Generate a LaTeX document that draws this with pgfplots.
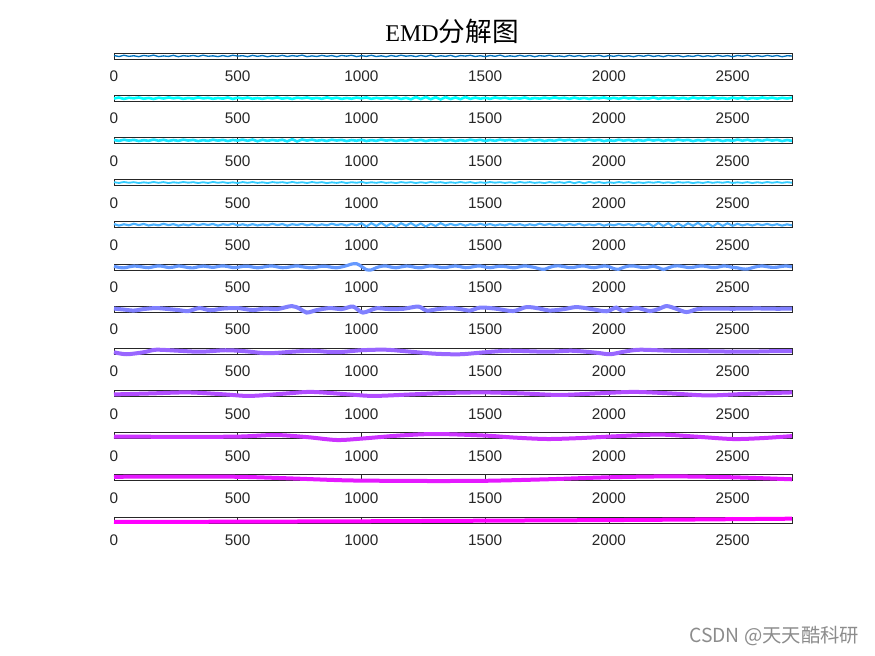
\documentclass[border=0pt]{standalone}
\usepackage{fontspec}
\setmainfont{Liberation Sans}
\newfontfamily\cjk{Noto Sans CJK SC}
\newfontfamily\serifont{Liberation Serif}
\usepackage{pgfplots}
\pgfplotsset{compat=1.18}
\definecolor{c0}{rgb}{0.0,0.447,0.741}
\definecolor{c1}{rgb}{0.0,1.0,1.0}
\definecolor{c2}{rgb}{0.1,0.9,1.0}
\definecolor{c3}{rgb}{0.2,0.8,1.0}
\definecolor{c4}{rgb}{0.3,0.7,1.0}
\definecolor{c5}{rgb}{0.4,0.6,1.0}
\definecolor{c6}{rgb}{0.5,0.5,1.0}
\definecolor{c7}{rgb}{0.6,0.4,1.0}
\definecolor{c8}{rgb}{0.7,0.3,1.0}
\definecolor{c9}{rgb}{0.8,0.2,1.0}
\definecolor{c10}{rgb}{0.9,0.1,1.0}
\definecolor{c11}{rgb}{1.0,0.0,1.0}
\pgfplotsset{emd/.style={width=508.5pt,height=4.5pt,scale only axis,
  xmin=0,xmax=2740,ymin=-3,ymax=3,ytick=\empty,
  xtick={0,500,1000,1500,2000,2500},
  tick align=inside,major tick length=2.2pt,clip=false,
  axis line style={line width=0.5pt,black!85},
  tick style={black!85,line width=0.5pt},
  xticklabel style={font=\fontsize{11.5}{12}\selectfont,text=black!85,yshift=-5.5pt},
  /pgf/number format/assume math mode=true,
  /pgf/number format/1000 sep={},
  anchor=south west},
  noisy/.style={table/row sep=\\,table/header=false,table/x expr=\coordindex*20,table/y index=0,restrict x to domain=0:2740}}
\begin{document}
\begin{tikzpicture}
\useasboundingbox (0,0) rectangle (656.25pt,492pt);
% 1
\begin{axis}[emd,at={(85.5pt,447.75pt)},ymin=-5,ymax=5]
\addplot[c0,line width=1pt,noisy] table {0.8\\ -0.9\\ 1.2\\ -0.6\\ 0.4\\ -1.1\\ 0.9\\ -0.3\\ 1.4\\ -1.0\\
0.2\\ -0.7\\ 1.1\\ -1.2\\ 0.6\\ -0.4\\ 0.9\\ -0.8\\ 1.3\\ -0.5\\
0.3\\ -1.0\\ 0.7\\ -0.9\\ 1.2\\ -0.2\\ 0.5\\ -1.1\\ 1.0\\ -0.6\\
0.8\\ -1.3\\ 0.4\\ -0.7\\ 1.1\\ -0.9\\ 0.6\\ -0.4\\ 1.4\\ -1.1\\
0.2\\ -0.8\\ 1.0\\ -0.5\\ 0.7\\ -1.2\\ 0.9\\ -0.3\\ 1.2\\ -1.0\\
0.5\\ -0.6\\ 1.1\\ -0.9\\ 0.3\\ -1.2\\ 0.8\\ -0.7\\ 1.3\\ -0.4\\
0.6\\ -1.0\\ 0.9\\ -0.8\\ 1.5\\ -1.2\\ 0.4\\ -0.6\\ 1.0\\ -1.3\\
0.7\\ -0.2\\ 1.2\\ -0.9\\ 0.5\\ -1.1\\ 0.8\\ -0.5\\ 1.4\\ -1.0\\
0.3\\ -0.8\\ 1.1\\ -0.6\\ 0.9\\ -1.2\\ 0.6\\ -0.4\\ 1.3\\ -0.9\\
0.2\\ -1.1\\ 1.0\\ -0.7\\ 0.8\\ -1.3\\ 0.5\\ -0.3\\ 1.2\\ -1.0\\
0.7\\ -0.6\\ 1.1\\ -0.9\\ 0.4\\ -1.2\\ 0.9\\ -0.5\\ 1.3\\ -0.8\\
0.6\\ -1.1\\ 1.0\\ -0.4\\ 0.8\\ -1.3\\ 0.3\\ -0.7\\ 1.2\\ -0.9\\
0.5\\ -1.0\\ 1.1\\ -0.6\\ 0.7\\ -1.2\\ 0.9\\ -0.3\\ 1.4\\ -1.1\\
0.6\\ -0.8\\ 1.0\\ -0.5\\ 0.8\\ -1.2\\ 0.4\\ 0.0\\ 0.5\\ -0.6\\};
\end{axis}
% 2
\begin{axis}[emd,at={(85.5pt,416.12pt)},ymin=-5,ymax=5]
\addplot[c1,line width=2pt,noisy] table {-0.5\\ 1.0\\ -1.2\\ 0.7\\ -0.3\\ 1.1\\ -0.9\\ 0.4\\ -1.3\\ 0.8\\
-0.6\\ 1.2\\ -0.2\\ 0.9\\ -1.1\\ 0.5\\ -0.8\\ 1.3\\ -0.4\\ 0.6\\
-1.0\\ 0.3\\ -0.7\\ 1.1\\ -1.2\\ 0.8\\ -0.5\\ 1.0\\ -0.9\\ 0.2\\
-1.1\\ 0.7\\ -0.4\\ 1.2\\ -0.8\\ 0.6\\ -1.3\\ 0.9\\ -0.3\\ 1.1\\
-0.7\\ 0.5\\ -1.0\\ 1.3\\ -0.6\\ 0.8\\ -1.2\\ 0.4\\ -0.9\\ 1.0\\
-0.3\\ 1.2\\ -1.1\\ 0.6\\ -0.8\\ 0.9\\ -0.5\\ 1.1\\ -1.3\\ 0.7\\
-1.8\\ 1.9\\ -1.5\\ 2.0\\ -1.7\\ 1.6\\ -2.0\\ 1.8\\ -1.4\\ 1.2\\
-1.6\\ 1.9\\ -1.2\\ 1.0\\ -0.9\\ 0.6\\ -1.1\\ 1.2\\ -0.4\\ 0.8\\
-1.0\\ 0.5\\ -0.7\\ 1.1\\ -1.2\\ 0.3\\ -0.8\\ 0.9\\ -0.6\\ 1.3\\
-0.4\\ 0.7\\ -1.1\\ 1.0\\ -0.9\\ 0.5\\ -1.3\\ 0.8\\ -0.2\\ 1.2\\
-0.8\\ 0.6\\ -1.0\\ 1.1\\ -0.5\\ 0.9\\ -1.2\\ 0.4\\ -0.7\\ 1.3\\
-1.1\\ 0.8\\ -0.3\\ 1.0\\ -0.9\\ 0.6\\ -1.2\\ 1.1\\ -0.5\\ 0.7\\
-0.9\\ 1.2\\ -0.6\\ 0.3\\ -1.1\\ 0.9\\ -0.7\\ 1.0\\ -1.3\\ 0.5\\
-0.8\\ 1.1\\ -0.4\\ 0.9\\ -1.0\\ 0.6\\ -0.5\\ 0.8\\ -0.2\\ 0.0\\};
\end{axis}
% 3
\begin{axis}[emd,at={(85.5pt,384.48pt)},ymin=-5,ymax=5]
\addplot[c2,line width=2pt,noisy] table {0.6\\ -0.9\\ 1.0\\ -0.4\\ 0.8\\ -1.1\\ 0.3\\ -0.7\\ 1.2\\ -0.6\\
0.9\\ -1.0\\ 0.5\\ -0.8\\ 1.1\\ -0.3\\ 0.7\\ -1.2\\ 0.4\\ -0.9\\
1.0\\ -0.5\\ 0.8\\ -1.1\\ 0.6\\ -0.4\\ 1.2\\ -0.8\\ 1.3\\ -1.4\\
0.9\\ -0.8\\ 0.7\\ -0.6\\ 1.0\\ -1.6\\ 1.8\\ -1.7\\ 1.4\\ -0.5\\
1.2\\ -0.7\\ 0.6\\ -1.0\\ 1.0\\ -0.3\\ 0.8\\ -1.2\\ 0.5\\ -0.6\\
0.9\\ -1.1\\ 0.4\\ -0.8\\ 1.2\\ -0.5\\ 0.7\\ -1.0\\ 0.3\\ -0.9\\
1.1\\ -0.6\\ 0.8\\ -1.2\\ 0.5\\ -0.4\\ 1.0\\ -0.9\\ 0.7\\ -1.1\\
0.4\\ -0.8\\ 1.2\\ -0.5\\ 0.9\\ -1.0\\ 0.6\\ -0.7\\ 1.1\\ -0.3\\
0.8\\ -1.2\\ 0.5\\ -0.9\\ 1.0\\ -0.6\\ 0.7\\ -1.1\\ 0.4\\ -0.8\\
1.2\\ -0.4\\ 0.9\\ -1.0\\ 0.6\\ -0.7\\ 1.1\\ -0.5\\ 0.8\\ -1.2\\
0.3\\ -0.9\\ 1.0\\ -0.6\\ 0.7\\ -1.1\\ 0.5\\ -0.8\\ 1.2\\ -0.4\\
0.9\\ -1.0\\ 0.6\\ -0.7\\ 1.1\\ -0.3\\ 0.8\\ -1.2\\ 0.5\\ -0.9\\
1.0\\ -0.5\\ 0.7\\ -1.1\\ 0.4\\ -0.8\\ 1.2\\ -0.6\\ 0.9\\ -1.0\\
0.6\\ -0.7\\ 1.1\\ -0.4\\ 0.8\\ -1.2\\ 0.5\\ -0.9\\ 0.3\\ 0.0\\};
\end{axis}
% 4
\begin{axis}[emd,at={(85.5pt,352.85pt)},ymin=-5,ymax=5]
\addplot[c3,line width=1.4pt,noisy] table {0.5\\ -0.7\\ 0.9\\ -0.4\\ 0.6\\ -0.8\\ 0.3\\ -0.6\\ 0.8\\ -0.5\\
0.7\\ -0.9\\ 0.4\\ -0.5\\ 0.8\\ -0.3\\ 0.6\\ -0.8\\ 0.5\\ -0.7\\
0.9\\ -0.4\\ 0.6\\ -0.7\\ 0.3\\ -0.8\\ 0.7\\ -0.5\\ 0.8\\ -0.6\\
0.4\\ -0.9\\ 0.7\\ -0.3\\ 0.6\\ -0.7\\ 0.9\\ -0.5\\ 0.5\\ -0.8\\
0.8\\ -0.4\\ 0.6\\ -0.9\\ 0.3\\ -0.6\\ 0.7\\ -0.8\\ 0.5\\ -0.4\\
0.9\\ -0.7\\ 0.4\\ -0.5\\ 0.8\\ -0.6\\ 0.3\\ -0.9\\ 0.7\\ -0.4\\
0.6\\ -0.8\\ 0.5\\ -0.7\\ 0.9\\ -0.3\\ 0.6\\ -0.8\\ 0.4\\ -0.6\\
0.8\\ -0.5\\ 0.7\\ -0.9\\ 0.4\\ -0.6\\ 0.8\\ -0.3\\ 0.6\\ -0.7\\
0.5\\ -0.8\\ 0.9\\ -0.4\\ 0.7\\ -0.6\\ 0.3\\ -0.9\\ 0.8\\ -0.5\\
0.6\\ -0.7\\ 1.2\\ -1.1\\ 0.9\\ -1.3\\ 1.0\\ -0.6\\ 0.7\\ -0.8\\
0.4\\ -0.6\\ 0.8\\ -0.5\\ 0.7\\ -0.9\\ 0.3\\ -0.7\\ 0.6\\ -0.4\\
0.9\\ -0.6\\ 0.5\\ -0.8\\ 0.7\\ -0.3\\ 0.6\\ -0.9\\ 0.4\\ -0.7\\
0.8\\ -0.5\\ 0.6\\ -0.4\\ 0.9\\ -0.7\\ 0.3\\ -0.6\\ 0.7\\ -0.8\\
0.5\\ -0.6\\ 0.8\\ -0.4\\ 0.7\\ -0.5\\ 0.6\\ -0.3\\ 0.4\\ 0.0\\};
\end{axis}
% 5
\begin{axis}[emd,at={(85.5pt,321.21pt)},ymin=-4,ymax=4]
\addplot[c4,line width=1.6pt,noisy] table {0.9\\ -1.2\\ 0.6\\ -0.8\\ 1.3\\ -0.5\\ 1.0\\ -1.1\\ 0.4\\ -0.9\\
1.2\\ -0.6\\ 0.8\\ -1.3\\ 0.5\\ -1.0\\ 1.1\\ -0.7\\ 0.9\\ -0.4\\
1.0\\ -1.2\\ 0.7\\ -0.5\\ 1.3\\ -0.9\\ 0.6\\ -1.1\\ 0.8\\ -1.0\\
0.5\\ -0.8\\ 1.2\\ -0.6\\ 0.9\\ -1.3\\ 0.7\\ -0.4\\ 1.1\\ -0.9\\
0.8\\ -1.1\\ 0.6\\ -0.9\\ 1.3\\ -0.5\\ 0.8\\ -1.2\\ 1.0\\ -0.7\\
1.8\\ -2.2\\ 2.0\\ -1.6\\ 2.4\\ -1.9\\ 1.5\\ -2.3\\ 1.9\\ -1.4\\
2.1\\ -1.8\\ 1.6\\ -2.4\\ 1.3\\ -1.7\\ 2.0\\ -1.2\\ 1.1\\ -0.9\\
1.0\\ -1.3\\ 0.7\\ -0.8\\ 1.2\\ -0.6\\ 0.9\\ -1.1\\ 0.5\\ -1.0\\
1.1\\ -0.7\\ 0.8\\ -1.2\\ 0.6\\ -0.9\\ 1.3\\ -0.5\\ 1.0\\ -0.8\\
0.7\\ -1.1\\ 0.9\\ -0.6\\ 1.2\\ -1.0\\ 0.5\\ -0.8\\ 1.1\\ -1.3\\
0.6\\ -0.9\\ 1.0\\ -0.7\\ 0.8\\ -1.2\\ 1.4\\ -1.0\\ 1.7\\ -2.1\\
2.3\\ -1.8\\ 2.0\\ -2.5\\ 1.6\\ -2.2\\ 1.9\\ -1.5\\ 2.4\\ -2.0\\
1.7\\ -2.3\\ 2.1\\ -1.6\\ 1.9\\ -1.4\\ 1.2\\ -1.0\\ 0.8\\ -1.1\\
0.9\\ -0.6\\ 1.0\\ -0.8\\ 0.7\\ -1.2\\ 0.5\\ -0.9\\ 0.6\\ 0.0\\};
\end{axis}
% 6
\begin{axis}[emd,at={(85.5pt,289.58pt)}]
\addplot[c5,line width=2.4pt,noisy,smooth] table {0.5\\ -0.5\\ -1.0\\ 0.0\\ 0.8\\ 0.5\\ -0.3\\ -0.8\\ 0.2\\ 1.0\\
0.4\\ -0.6\\ -0.2\\ 0.9\\ 0.3\\ -0.7\\ -1.0\\ 0.1\\ 0.8\\ 0.2\\
-0.5\\ 0.4\\ 1.0\\ 0.3\\ -0.6\\ -0.4\\ 0.5\\ 0.7\\ -0.2\\ -0.9\\
-0.3\\ 0.6\\ 0.9\\ 0.0\\ -0.8\\ -0.5\\ 0.4\\ 1.0\\ 0.2\\ -0.6\\
-1.0\\ -0.2\\ 0.7\\ 0.5\\ -0.4\\ -0.9\\ 0.0\\ 1.2\\ 2.8\\ 3.2\\
0.5\\ -2.8\\ -3.0\\ -0.8\\ 0.6\\ 0.9\\ -0.2\\ -0.9\\ 0.0\\ 0.8\\
0.5\\ -0.6\\ -0.9\\ 0.2\\ 1.0\\ 0.4\\ -0.5\\ -0.7\\ 0.3\\ 0.9\\
0.2\\ -0.8\\ -0.4\\ 0.6\\ 0.9\\ -0.1\\ -0.8\\ 0.0\\ 0.7\\ 0.4\\
-0.5\\ -0.9\\ 0.2\\ 1.0\\ 0.3\\ -0.6\\ -2.0\\ -2.4\\ -0.5\\ 0.8\\
1.0\\ 0.2\\ -0.7\\ -0.5\\ 0.6\\ 0.9\\ -0.2\\ -0.8\\ 0.1\\ 0.9\\
0.3\\ -1.8\\ -2.3\\ -0.4\\ 0.8\\ 0.9\\ 0.0\\ -0.7\\ -0.2\\ 0.7\\
-0.8\\ -2.6\\ -1.0\\ 0.7\\ 1.0\\ 0.3\\ -0.6\\ -0.4\\ 0.6\\ 0.9\\
0.1\\ -0.7\\ -0.3\\ 0.8\\ 0.6\\ -0.5\\ -1.0\\ -2.0\\ -2.2\\ -0.8\\
0.4\\ 0.9\\ 0.2\\ -0.5\\ -0.3\\ 0.6\\ 0.8\\ 0.0\\ -0.4\\ 0.0\\};
\end{axis}
% 7
\begin{axis}[emd,at={(85.5pt,257.94pt)}]
\addplot[c6,line width=3pt,smooth] coordinates {(0,0.5)(40,-0.5)(80,-1.5)(120,0)(170,1)(220,0)(260,-1)(300,-2)(345,1)(390,-1.2)(440,0.5)(500,1)(560,-1)(610,0.5)(660,0)(718,3)(750,0.5)(778,-3.5)(820,-1)(871,1)(920,0)(966,2.5)(1006,-3.5)(1060,0.8)(1110,0)(1170,0.3)(1230,2.5)(1264,-1.5)(1310,0)(1360,1)(1400,0)(1438,-1.5)(1480,1.5)(1540,0.5)(1613,-2)(1667,2)(1720,0.5)(1761,-1.5)(1820,0)(1869,2)(1930,0)(1990,-2.2)(2030,1.5)(2057,-2)(2111,1.2)(2165,-2)(2200,0)(2233,3)(2270,0.5)(2313,-3)(2360,0)(2420,0.5)(2500,0.3)(2600,0.6)(2680,0.3)(2740,0.5)};
\end{axis}
% 8
\begin{axis}[emd,at={(85.5pt,226.31pt)}]
\addplot[c7,line width=3pt,smooth] coordinates {(0,-1)(50,-3)(120,-1)(170,1.5)(260,0.5)(350,-0.5)(450,1)(530,0)(620,-2)(720,-0.5)(800,0.5)(900,-1)(1000,1)(1100,1.5)(1200,-0.5)(1300,-2.5)(1400,-3)(1500,-1)(1600,0.5)(1750,-0.5)(1850,0.5)(1950,-1.5)(2005,-3)(2060,-0.5)(2125,1.5)(2250,0.5)(2400,0)(2550,-0.5)(2650,0)(2740,0)};
\end{axis}
% 9
\begin{axis}[emd,at={(85.5pt,194.67pt)}]
\addplot[c8,line width=3pt,smooth] coordinates {(0,-1)(150,0)(300,1)(450,-1)(550,-2.5)(700,0)(800,1.5)(950,-1)(1050,-2.5)(1200,-1)(1350,0.5)(1500,1)(1650,0)(1800,-1.5)(1950,0)(2100,1.5)(2250,0)(2400,-2)(2550,-0.5)(2740,1)};
\end{axis}
% 10
\begin{axis}[emd,at={(85.5pt,163.04pt)}]
\addplot[c9,line width=3pt,smooth] coordinates {(0,-1)(250,-1.2)(500,-1)(650,0.6)(780,-1.5)(900,-4.4)(1000,-3)(1150,0)(1300,1.6)(1500,0)(1620,-2)(1750,-3.4)(1880,-2.5)(2000,-1)(2200,1)(2350,-1)(2500,-3.4)(2620,-2.5)(2740,-0.5)};
\end{axis}
% 11
\begin{axis}[emd,at={(85.5pt,131.4pt)}]
\addplot[c10,line width=3pt,smooth] coordinates {(0,1)(250,1.2)(500,1)(700,-0.5)(900,-2.3)(1000,-2.8)(1250,-3.2)(1500,-3)(1750,-1.5)(2000,0.5)(2250,1.4)(2500,0.5)(2740,-1.5)};
\end{axis}
% 12
\begin{axis}[emd,at={(85.5pt,99.75pt)}]
\addplot[c11,line width=3pt,smooth] coordinates {(0,-1.8)(250,-1.8)(500,-1.7)(750,-1.5)(1000,-1.3)(1250,-1.0)(1500,-0.7)(1750,-0.4)(2000,-0.1)(2250,0.3)(2500,0.8)(2740,1.3)};
\end{axis}
\node[anchor=base,inner sep=0pt] at (339pt,460.5pt) {{\fontsize{18}{18}\selectfont\serifont EMD}{\fontsize{20}{20}\selectfont\cjk 分解图}};
\node[anchor=base east,inner sep=0pt,text=black!45] at (644.5pt,9.75pt) {\fontsize{14.5}{15}\selectfont\cjk CSDN @天天酷科研};
\end{tikzpicture}
\end{document}
